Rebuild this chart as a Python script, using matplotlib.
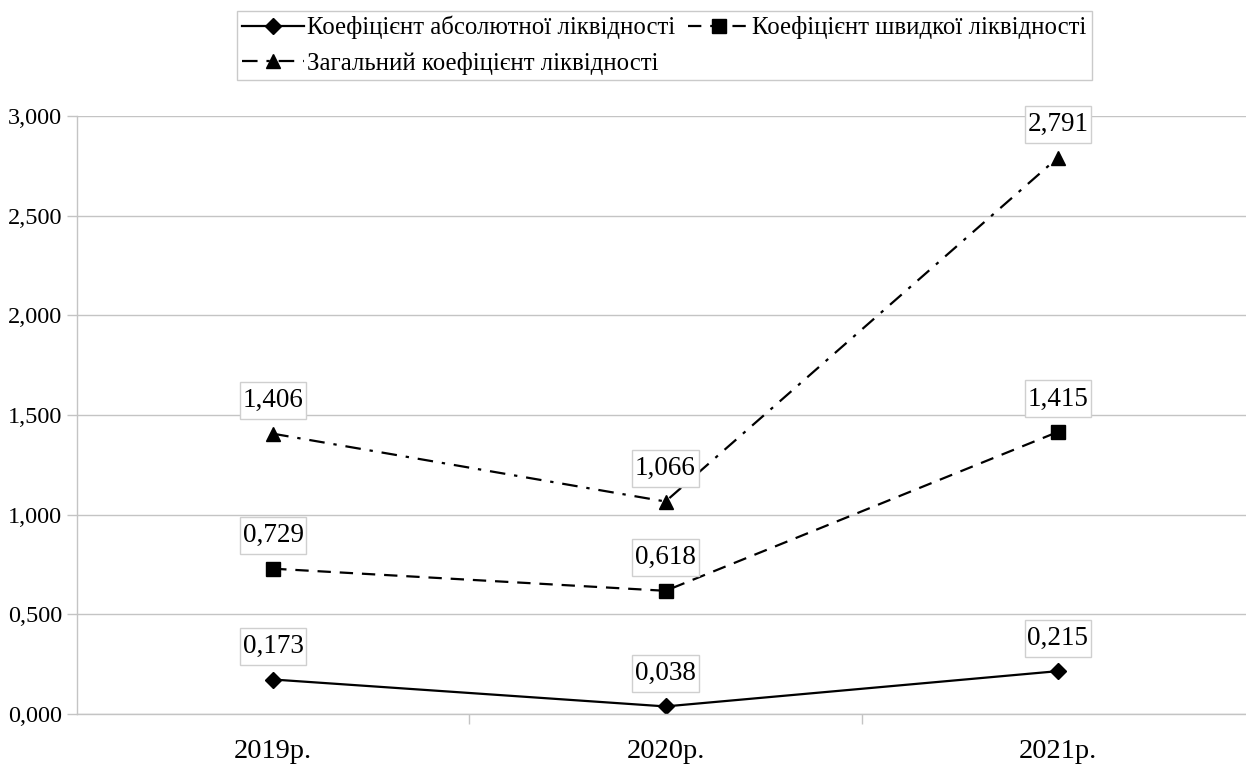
import matplotlib
matplotlib.use("Agg")
import matplotlib.pyplot as plt
from matplotlib.path import Path
from matplotlib.ticker import FixedLocator, FuncFormatter

plt.rcParams['font.family'] = ['Liberation Serif', 'DejaVu Serif']

years = ["2019р.", "2020р.", "2021р."]
absolute_ratio = [0.173, 0.038, 0.215]
quick_ratio = [0.729, 0.618, 1.415]
current_ratio = [1.406, 1.066, 2.791]

series_names = [
    "Коефіцієнт абсолютної ліквідності",
    "Коефіцієнт швидкої ліквідності",
    "Загальний коефіцієнт ліквідності",
]


class LabelBox:
    """Rectangular label frame with separate horizontal and vertical padding."""

    def __init__(self, padx=0.12, pady=0.25):
        self.padx = padx
        self.pady = pady

    def __call__(self, x0, y0, width, height, mutation_size):
        px = self.padx * mutation_size
        py = self.pady * mutation_size
        x1, y1 = x0 + width + px, y0 + height + py
        x0, y0 = x0 - px, y0 - py
        return Path([(x0, y0), (x1, y0), (x1, y1), (x0, y1), (x0, y0)],
                    closed=True)


fig = plt.figure(figsize=(12.46, 7.65), dpi=100)
ax = fig.add_axes([77 / 1246, 1 - 714 / 765, 1177 / 1246, (714 - 116) / 765])

x = list(range(len(years)))
grid_c = "#c4c4c4"

l1, = ax.plot(x, absolute_ratio, color="black", lw=1.6, marker="D", ms=8.5,
              linestyle="-")
l2, = ax.plot(x, quick_ratio, color="black", lw=1.6, marker="s", ms=10,
              linestyle=(0, (6, 4)))
l3, = ax.plot(x, current_ratio, color="black", lw=1.6, marker="^", ms=10,
              linestyle=(0, (7, 4, 1.5, 4)))

for vals in (absolute_ratio, quick_ratio, current_ratio):
    for xi, v in zip(x, vals):
        ax.annotate(f"{v:.3f}".replace(".", ","), (xi, v),
                    xytext=(0, 33), textcoords="offset pixels",
                    ha="center", va="center", fontsize=19.5,
                    bbox=dict(boxstyle=LabelBox(0.1, 0.22), fc="white",
                              ec="#cfcfcf", lw=1))

ax.set_xlim(-0.5, 2.5)
ax.set_ylim(0, 3)
ax.yaxis.set_major_locator(FixedLocator([0, 0.5, 1, 1.5, 2, 2.5, 3]))
ax.yaxis.set_major_formatter(FuncFormatter(lambda v, p: f"{v:.3f}".replace(".", ",")))
ax.set_xticks(x)
ax.set_xticklabels(years, fontsize=20.5)
ax.xaxis.set_minor_locator(FixedLocator([0.5, 1.5]))
ax.tick_params(axis="x", which="major", length=0, pad=18)
ax.tick_params(axis="x", which="minor", length=7, color=grid_c, width=1)
ax.tick_params(axis="y", length=7, color=grid_c, width=1, labelsize=17.5, pad=3.5)

ax.grid(axis="y", color=grid_c, lw=1)
ax.set_axisbelow(True)
for s in ("top", "right"):
    ax.spines[s].set_visible(False)
for s in ("left", "bottom"):
    ax.spines[s].set_color(grid_c)
    ax.spines[s].set_linewidth(1)

leg = fig.legend([l1, l3, l2], [series_names[0], series_names[2], series_names[1]],
                 ncol=2, loc="upper center", bbox_to_anchor=(664.5 / 1246, 1 - 11 / 765),
                 fontsize=17.8, frameon=True, fancybox=False, edgecolor="#bdbdbd",
                 handlelength=2.5, handletextpad=0.12, columnspacing=0.5,
                 labelspacing=0.5, borderpad=0.2, borderaxespad=0)
leg.get_frame().set_linewidth(1)

fig.savefig("out.png", dpi=100)
